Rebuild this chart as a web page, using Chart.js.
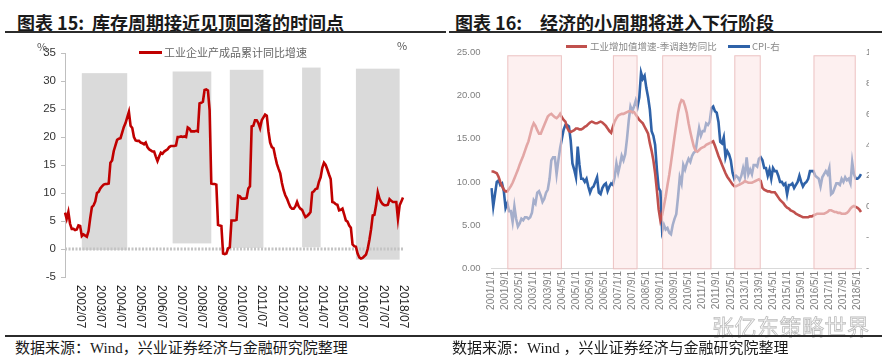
<!DOCTYPE html>
<html>
<head>
<meta charset="utf-8">
<script src="https://cdn.jsdelivr.net/npm/chart.js@4.4.1/dist/chart.umd.min.js"></script>
<style>
  body { margin: 0; width: 896px; height: 363px; background: #fff; position: relative; overflow: hidden;
         font-family: "Noto Sans CJK SC", sans-serif; }
  .abs { position: absolute; white-space: nowrap; }
  .title { top: 9px; font-size: 18px; line-height: 26px; font-weight: bold; color: #1a1a1a; }
  .rule { position: absolute; height: 1.5px; background: #2b2b2b; }
  .src { top: 337px; font-family: "Liberation Serif", "Noto Sans CJK SC", serif; font-size: 15px; line-height: 22px; color: #1a1a1a; }
  .leg { font-size: 11px; color: #666; line-height: 14px; }
  .swatch { position: absolute; height: 2.6px; }
  canvas { position: absolute; top: 36px; }
  .mark { font-size: 22px; color: transparent; -webkit-text-stroke: 0.8px #bcbcbc; letter-spacing: 0.5px; }
</style>
</head>
<body>
<div class="abs title" style="left:17px">图表 15:</div>
<div class="abs title" style="left:92px">库存周期接近见顶回落的时间点</div>
<div class="abs title" style="left:455px">图表 16:</div>
<div class="abs title" style="left:540px">经济的小周期将进入下行阶段</div>
<div class="rule" style="left:5px;width:441px;top:31px"></div>
<div class="rule" style="left:449px;width:433px;top:31px"></div>

<canvas id="stockChart" width="448" height="296" style="left:0"></canvas>
<canvas id="cycleChart" width="428" height="296" style="left:448px"></canvas>

<div class="abs" style="left:37px;top:38px;font-size:11px;color:#555">%</div>
<div class="abs" style="left:397px;top:37px;font-size:11px;color:#555">%</div>
<div class="swatch" style="left:139px;top:51px;width:23px;background:#c00000"></div>
<div class="abs leg" id="stockLegend" style="left:164px;top:45px"></div>
<div class="swatch" style="left:566px;top:45px;width:21px;background:#c0504d"></div>
<div class="abs leg" id="ipLegend" style="left:590px;top:39px;font-size:9.5px;color:#888"></div>
<div class="swatch" style="left:728px;top:45px;width:22px;background:#2f62a8"></div>
<div class="abs leg" id="cpiLegend" style="left:752px;top:39px;font-size:9.5px;color:#888"></div>

<div class="abs mark" style="left:712px;top:309px">张亿东策略世界</div>
<div class="rule" style="left:5px;width:443px;top:335px"></div>
<div class="rule" style="left:448px;width:434px;top:335px"></div>
<div class="abs src" style="left:15px">数据来源：Wind，兴业证券经济与金融研究院整理</div>
<div class="abs src" style="left:452px">数据来源：Wind ，兴业证券经济与金融研究院整理</div>

<script>
// ---- 图表15: 工业企业产成品累计同比增速 (%), monthly from 2001/10 ----
const stockName = '工业企业产成品累计同比增速';
const stockGrowth = [
  6.5, 5.4, 6.6, 4.5, 3.6, 3.6, 3.4, 3.5, 4.2, 4.1,
  2.3, 2.6, 2.4, 2.2, 3.2, 5.5, 7.5, 7.8, 8.5, 10.0,
  10.2, 10.8, 11.2, 11.5, 11.6, 11.6, 11.7, 15.4, 15.8, 17.5,
  18.5, 19.5, 19.7, 19.8, 20.8, 21.8, 22.5, 23.5, 24.5, 22.0,
  21.6, 20.0, 19.4, 19.3, 19.3, 19.0, 18.9, 18.7, 19.0, 18.2,
  17.8, 17.6, 17.4, 17.4, 16.5, 15.7, 16.5, 17.2, 17.0, 17.4,
  17.6, 17.8, 18.2, 18.4, 18.4, 18.4, 18.5, 20.0, 20.0, 20.1,
  20.0, 20.1, 20.0, 21.7, 21.5, 21.0, 21.0, 21.0, 21.1, 21.0,
  26.0, 26.1, 26.3, 28.4, 28.5, 28.3, 24.8, 11.7, 11.6, 11.6,
  11.5, 4.3, 4.2, 4.1, -0.8, -0.9, -0.8, 0.1, 0.3, 5.1,
  5.1, 5.1, 5.2, 9.5, 9.4, 9.0, 9.0, 9.0, 9.1, 10.8,
  11.2, 21.9, 22.0, 23.0, 23.0, 22.5, 21.6, 23.0, 23.5, 24.0,
  23.8, 21.0, 19.0, 18.2, 18.0, 16.5, 15.2, 14.3, 13.5, 11.8,
  10.5, 9.6, 9.0, 8.2, 7.5, 7.2, 7.2, 7.6, 8.4, 7.6,
  7.2, 7.0, 6.3, 5.7, 5.9, 6.2, 6.6, 10.1, 10.3, 10.7,
  10.8, 12.0, 12.8, 14.5, 15.4, 15.0, 14.2, 13.3, 12.5, 8.4,
  8.3, 8.0, 7.9, 6.9, 7.0, 7.2, 6.2, 5.1, 4.9, 4.2,
  3.8, 0.8, 0.5, 0.4, -0.8, -1.5, -1.7, -1.6, -1.3, -1.0,
  0.0, 1.6, 3.5, 6.0, 6.1, 7.8, 10.1, 9.0, 8.4, 8.0,
  7.8, 7.8, 7.9, 8.9, 8.6, 8.4, 8.4, 8.4, 5.4, 7.8,
  8.5, 9.2
];
// grey phases
const stockBoxStart = ['2002/08', '2007/02', '2009/12', '2013/07', '2016/03'];
const stockBoxEnd   = ['2004/11', '2009/01', '2011/08', '2014/06', '2018/05'];
const stockBoxLow   = [-0.2, 1.0, 0.2, 0.3, -1.9];
const stockBoxHigh  = [31.4, 31.7, 32.0, 32.4, 32.2];

// ---- 图表16: 工业增加值增速-季调趋势同比 (左) / CPI (右), monthly from 2001/1 ----
const ipName = '工业增加值增速-季调趋势同比';
const cpiName = 'CPI-右';
const ipTrend = [
  11.2, 11.2, 11.1, 11.0, 10.6, 10.0, 9.5, 9.1, 8.9, 8.9,
  9.2, 9.5, 9.9, 10.4, 10.9, 11.4, 12.0, 12.5, 13.0, 13.6,
  14.2, 14.7, 15.5, 16.3, 16.8, 16.5, 16.0, 15.6, 15.6, 16.1,
  16.6, 17.1, 17.6, 17.8, 17.9, 17.7, 17.5, 17.4, 17.6, 17.9,
  17.5, 17.2, 17.0, 16.3, 15.9, 15.8, 15.9, 16.0, 16.2, 16.2,
  16.1, 16.1, 16.2, 16.4, 16.5, 16.7, 16.9, 17.0, 16.9, 16.8,
  16.8, 16.9, 17.0, 16.9, 16.7, 16.5, 16.2, 15.9, 15.7, 16.4,
  17.0, 17.4, 17.7, 17.8, 17.9, 17.9, 18.0, 18.1, 18.2, 18.2,
  18.1, 18.1, 17.8, 17.5, 17.2, 17.0, 16.8, 16.4, 16.0, 15.6,
  14.5, 13.6, 12.5, 11.0, 9.0, 6.8, 5.5, 6.2, 7.2, 8.3,
  9.6, 10.8, 12.2, 13.7, 15.2, 16.6, 18.0, 19.0, 19.5, 19.4,
  18.8, 18.0, 16.8, 15.8, 14.9, 14.1, 13.6, 13.5, 13.7, 13.9,
  14.0, 14.1, 14.3, 14.4, 14.5, 14.6, 14.7, 14.2, 13.6, 13.0,
  12.5, 12.0, 11.5, 11.0, 10.6, 10.3, 10.0, 9.7, 9.5, 9.5,
  9.6, 9.7, 9.8, 9.9, 10.1, 10.0, 9.9, 9.9, 9.9, 10.0,
  10.1, 10.2, 10.3, 10.1, 9.3, 9.1, 9.0, 8.9, 8.9, 8.8,
  8.8, 8.8, 8.5, 8.2, 7.9, 7.7, 7.5, 7.2, 7.0, 6.9,
  6.7, 6.6, 6.5, 6.3, 6.2, 6.1, 6.0, 5.9, 5.9, 5.9,
  5.9, 6.0, 6.0, 6.1, 6.2, 6.3, 6.3, 6.3, 6.3, 6.3,
  6.4, 6.5, 6.7, 6.7, 6.6, 6.5, 6.5, 6.4, 6.4, 6.3,
  6.3, 6.3, 6.4, 6.6, 6.9, 7.1, 7.2, 7.1, 7.0, 6.8,
  6.5
];
const cpi = [
  1.2, 0.0, 0.8, 1.6, 1.7, 1.4, 1.5, 1.0, -0.1, 0.2, -0.3, -0.3,
  -1.0, 0.0, -0.8, -1.3, -1.1, -0.8, -0.9, -0.7, -0.7, -0.8, -0.7, -0.4,
  0.4, 0.2, 0.9, 1.0, 0.7, 0.3, 0.5, 0.9, 1.1, 1.8, 3.0, 3.2,
  3.2, 2.1, 3.0, 3.8, 4.4, 5.0, 5.3, 5.3, 5.2, 4.3, 2.8, 2.4,
  1.9, 3.9, 2.7, 1.8, 1.8, 1.6, 1.8, 1.3, 0.9, 1.2, 1.3, 1.6,
  1.9, 0.9, 0.8, 1.2, 1.4, 1.5, 1.0, 1.3, 1.5, 1.4, 1.9, 2.8,
  2.2, 2.7, 3.3, 3.0, 3.4, 4.4, 5.6, 6.5, 6.2, 6.5, 6.9, 6.5,
  7.1, 8.7, 8.3, 8.5, 7.7, 7.1, 6.3, 4.9, 4.6, 4.0, 2.4, 1.2,
  1.0, -1.6, -1.2, -1.5, -1.4, -1.7, -1.8, -1.2, -0.8, -0.5, 0.6, 1.9,
  1.5, 2.7, 2.4, 2.8, 3.1, 2.9, 3.3, 3.5, 3.6, 4.4, 5.1, 4.6,
  4.9, 4.9, 5.4, 5.3, 5.5, 6.4, 6.5, 6.2, 6.1, 5.5, 4.2, 4.1,
  4.5, 3.2, 3.6, 3.4, 3.0, 2.2, 1.8, 2.0, 1.9, 1.7, 2.0, 2.5,
  2.0, 3.2, 2.1, 2.4, 2.1, 2.7, 2.7, 2.6, 3.1, 3.2, 3.0, 2.5,
  2.5, 2.0, 2.4, 1.8, 2.5, 2.3, 2.3, 2.0, 1.6, 1.6, 1.4, 1.5,
  0.8, 1.4, 1.4, 1.5, 1.2, 1.4, 1.6, 2.0, 1.6, 1.3, 1.5, 1.6,
  1.8, 2.3, 2.3, 2.3, 2.0, 1.9, 1.8, 1.3, 1.9, 2.1, 2.3, 2.1,
  2.5, 0.8, 0.9, 1.2, 1.5, 1.5, 1.4, 1.8, 1.6, 1.9, 1.7, 1.8,
  1.5, 2.9, 2.1, 1.8, 1.8, 1.9, 2.1
];
// pink phases (left axis units)
const cycleBoxStart = ['2001/10/1', '2006/10/1', '2009/2/1', '2012/7/1', '2016/4/1'];
const cycleBoxEnd   = ['2004/5/1', '2007/12/1', '2011/6/1', '2013/10/1', '2018/4/1'];
const cycleBoxLow = -0.15;
const cycleBoxHigh = 24.7;

function monthLabels(year, month, count, fmt) {
  const out = [];
  for (let i = 0; i < count; i++) {
    out.push(fmt(year, month));
    month++;
    if (month > 12) { month = 1; year++; }
  }
  return out;
}
const stockLabels = monthLabels(2001, 10, stockGrowth.length, (y, m) => y + '/' + String(m).padStart(2, '0'));
const cycleLabels = monthLabels(2001, 1, ipTrend.length, (y, m) => y + '/' + m + '/1');

document.getElementById('stockLegend').textContent = stockName;
document.getElementById('ipLegend').textContent = ipName;
document.getElementById('cpiLegend').textContent = cpiName;

const stockDecor = {
  id: 'stockDecor',
  beforeDatasetsDraw(chart) {
    const { ctx, chartArea, scales: { x, y } } = chart;
    ctx.save();
    ctx.fillStyle = '#dadada';
    stockBoxStart.forEach((s, i) => {
      const x0 = x.getPixelForValue(stockLabels.indexOf(s));
      const x1 = x.getPixelForValue(stockLabels.indexOf(stockBoxEnd[i]));
      const y0 = y.getPixelForValue(stockBoxHigh[i]);
      const y1 = y.getPixelForValue(stockBoxLow[i]);
      ctx.fillRect(x0, y0, x1 - x0, y1 - y0);
    });
    // dotted zero line
    const zy = y.getPixelForValue(0);
    ctx.strokeStyle = '#c4c4c4';
    ctx.lineWidth = 3;
    ctx.setLineDash([2, 1.5]);
    ctx.beginPath();
    ctx.moveTo(chartArea.left, zy);
    ctx.lineTo(chartArea.right, zy);
    ctx.stroke();
    ctx.restore();
  },
  afterDraw(chart) {
    // x labels read top to bottom
    const { ctx, chartArea, scales: { x } } = chart;
    ctx.save();
    ctx.font = '12px "Liberation Sans", Arial, sans-serif';
    ctx.fillStyle = '#262626';
    ctx.textAlign = 'left';
    ctx.textBaseline = 'middle';
    stockLabels.forEach((lab, i) => {
      if (!lab.endsWith('/07')) return;
      ctx.save();
      ctx.translate(x.getPixelForValue(i), chartArea.bottom + 8);
      ctx.rotate(Math.PI / 2);
      ctx.fillText(lab, 0, 0);
      ctx.restore();
    });
    ctx.restore();
  }
};

new Chart(document.getElementById('stockChart'), {
  type: 'line',
  data: {
    labels: stockLabels,
    datasets: [{
      label: stockName,
      data: stockGrowth,
      borderColor: '#c00000',
      borderWidth: 2.6,
      pointRadius: 0,
      tension: 0
    }]
  },
  options: {
    responsive: false,
    animation: false,
    layout: { padding: { top: 17, right: 45, bottom: 55, left: 0 } },
    plugins: { legend: { display: false }, tooltip: { enabled: false } },
    scales: {
      x: { display: false },
      y: {
        min: -5, max: 35,
        ticks: { stepSize: 5, color: '#333', padding: 5, font: { size: 11.5, family: '"Liberation Sans", Arial, sans-serif' } },
        grid: { drawOnChartArea: false, tickLength: 4, color: '#bfbfbf' },
        border: { color: '#bfbfbf' },
        afterFit: s => { s.width = 65; }
      }
    }
  },
  plugins: [stockDecor]
});

const cycleDecor = {
  id: 'cycleDecor',
  afterDatasetsDraw(chart) {
    const { ctx, scales: { x, y } } = chart;
    ctx.save();
    ctx.fillStyle = 'rgba(251,229,229,0.58)';
    ctx.strokeStyle = 'rgba(232,185,185,0.8)';
    ctx.lineWidth = 1;
    const y0 = y.getPixelForValue(cycleBoxHigh);
    const y1 = y.getPixelForValue(cycleBoxLow);
    cycleBoxStart.forEach((s, i) => {
      const x0 = x.getPixelForValue(cycleLabels.indexOf(s));
      const x1 = x.getPixelForValue(cycleLabels.indexOf(cycleBoxEnd[i]));
      ctx.fillRect(x0, y0, x1 - x0, y1 - y0);
      ctx.strokeRect(x0 + 0.5, y0 + 0.5, x1 - x0 - 1, y1 - y0 - 1);
    });
    ctx.restore();
  }
};

const greyTick = { color: '#7f7f7f', font: { size: 9.5, family: '"Liberation Sans", Arial, sans-serif' } };

new Chart(document.getElementById('cycleChart'), {
  type: 'line',
  data: {
    labels: cycleLabels,
    datasets: [
      { label: ipName, data: ipTrend, yAxisID: 'y', borderColor: '#c0504d', borderWidth: 2.6, pointRadius: 0, tension: 0 },
      { label: cpiName, data: cpi, yAxisID: 'y1', borderColor: '#2f62a8', borderWidth: 2.6, pointRadius: 0, tension: 0 }
    ]
  },
  options: {
    responsive: false,
    animation: false,
    layout: { padding: { top: 14, right: 0, bottom: 0, left: 0 } },
    plugins: { legend: { display: false }, tooltip: { enabled: false } },
    scales: {
      x: {
        ticks: {
          autoSkip: false, minRotation: 90, maxRotation: 90, padding: 3,
          color: '#7f7f7f', font: { size: 10, family: '"Liberation Sans", Arial, sans-serif' },
          callback: (v, i) => (i % 8 === 0 ? cycleLabels[i] : '')
        },
        grid: { display: false, drawTicks: false },
        border: { color: '#d9d9d9' },
        afterFit: s => { s.height = 64; }
      },
      y: {
        position: 'left', min: 0, max: 25,
        ticks: { ...greyTick, stepSize: 5, padding: 11, callback: v => v.toFixed(2) },
        grid: { display: false, drawTicks: false },
        border: { display: false },
        afterFit: s => { s.width = 43.5; }
      },
      y1: {
        position: 'right', min: -4, max: 10,
        ticks: { ...greyTick, stepSize: 2, padding: 5, callback: v => v.toFixed(2) },
        grid: { display: false, drawTicks: false },
        border: { display: false },
        afterFit: s => { s.width = 8; }
      }
    }
  },
  plugins: [cycleDecor]
});
</script>
</body>
</html>
